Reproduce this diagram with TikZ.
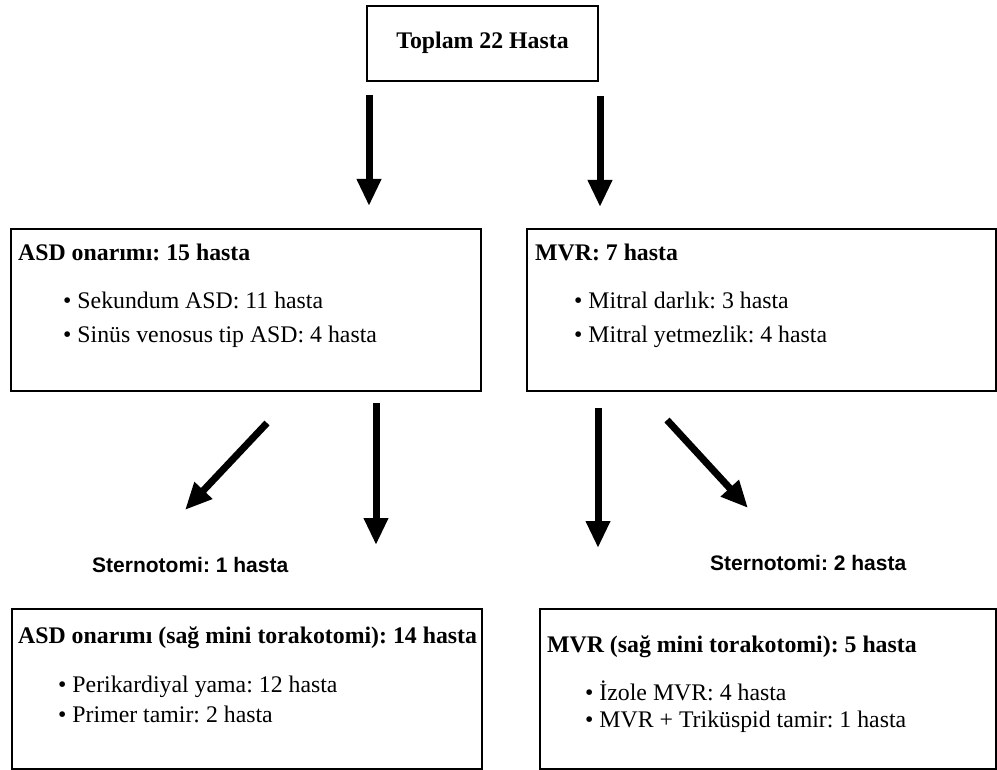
\documentclass[tikz,border=0pt]{standalone}
\usepackage{fontspec}
\setmainfont{Liberation Serif}
\newfontfamily\sansfont{Liberation Sans}
\usetikzlibrary{arrows.meta}
\frenchspacing
\begin{document}
\frenchspacing
\begin{tikzpicture}[x=1pt,y=-1pt,
  box/.style={draw=black, line width=1.3pt, inner sep=0pt},
  ttl/.style={anchor=base west, inner sep=0pt, font=\frenchspacing\fontsize{23.8}{28}\selectfont\bfseries},
  itm/.style={anchor=base west, inner sep=0pt, font=\frenchspacing\fontsize{23.8}{28}\selectfont},
  stl/.style={anchor=base west, inner sep=0pt, font=\frenchspacing\sansfont\fontsize{21}{25}\selectfont\bfseries},
  bigarrow/.style={line width=7pt, -{Triangle[width=23pt,length=27pt]}}]
\useasboundingbox (0,0) rectangle (997,770);
% boxes
\node[box, minimum width=231pt, minimum height=75pt] (top) at (482.5,43.5) {};
\node[box, minimum width=470pt, minimum height=162pt] (asd) at (246,310) {};
\node[box, minimum width=469pt, minimum height=162pt] (mvr) at (761.5,310) {};
\node[box, minimum width=470pt, minimum height=160pt] (asdm) at (247,689) {};
\node[box, minimum width=456pt, minimum height=160pt] (mvrm) at (768,689) {};
% texts
\node[ttl, anchor=base] (toptxt) at (482.5,49) {Toplam 22 Hasta};
\node[ttl] (asdt) at (18,261) {ASD onarımı: 15 hasta};
\node[itm] (asd1) at (63,309) {\textbullet~Sekundum ASD: 11 hasta};
\node[itm] (asd2) at (63,342) {\textbullet~Sinüs venosus tip ASD: 4 hasta};
\node[ttl] (mvrt) at (535,261) {MVR: 7 hasta};
\node[itm] (mvr1) at (574,309) {\textbullet~Mitral darlık: 3 hasta};
\node[itm] (mvr2) at (574,342) {\textbullet~Mitral yetmezlik: 4 hasta};
\node[stl] (st1) at (92,572) {Sternotomi: 1 hasta};
\node[stl] (st2) at (710,570) {Sternotomi: 2 hasta};
\node[ttl] (asdmt) at (18,643) {ASD onarımı (sağ mini torakotomi): 14 hasta};
\node[itm] (asdm1) at (58,692) {\textbullet~Perikardiyal yama: 12 hasta};
\node[itm] (asdm2) at (58,722) {\textbullet~Primer tamir: 2 hasta};
\node[ttl] (mvrmt) at (547,652) {MVR (sağ mini torakotomi): 5 hasta};
\node[itm] (mvrm1) at (585,700) {\textbullet~İzole MVR: 4 hasta};
\node[itm] (mvrm2) at (585,727) {\textbullet~MVR + Triküspid tamir: 1 hasta};
% arrow ends
\coordinate (a1s) at (369,95);  \coordinate (a1e) at (369,206);
\coordinate (a2s) at (600,96);  \coordinate (a2e) at (600,207);
\coordinate (a3s) at (267,423); \coordinate (a3e) at (185,510);
\coordinate (a4s) at (376,403); \coordinate (a4e) at (376,545);
\coordinate (a5s) at (598,408); \coordinate (a5e) at (598,548);
\coordinate (a6s) at (667,420); \coordinate (a6e) at (748,508);
\draw[bigarrow] (a1s) -- (a1e);
\draw[bigarrow] (a2s) -- (a2e);
\draw[bigarrow] (a3s) -- (a3e);
\draw[bigarrow] (a4s) -- (a4e);
\draw[bigarrow] (a5s) -- (a5e);
\draw[bigarrow] (a6s) -- (a6e);
\end{tikzpicture}
\end{document}
